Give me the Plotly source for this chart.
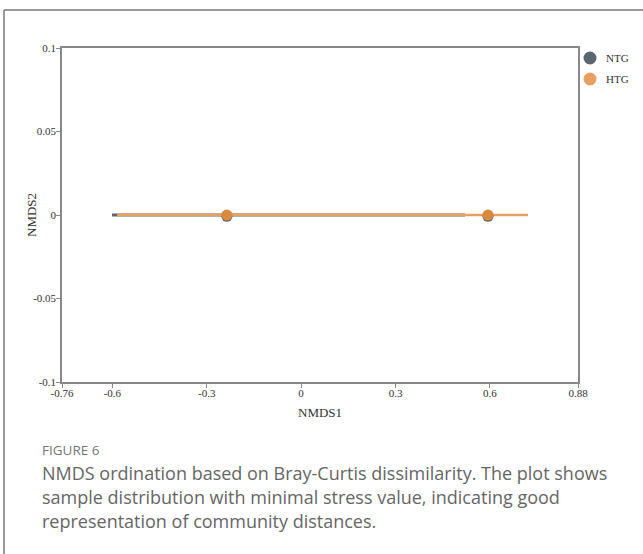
import plotly.graph_objects as go

# ---- data ----
groups = ["NTG", "HTG"]
ntg_x = [-0.236, 0.594]
ntg_y = [-0.0008, -0.0008]
htg_x = [-0.236, 0.594]
htg_y = [0.0, 0.0]
ntg_ellipse_x = [-0.601, 0.521]
ntg_ellipse_y = [0.0, 0.0]
htg_ellipse_x = [-0.585, 0.721]
htg_ellipse_y = [0.0, 0.0]
x_ticks = [-0.76, -0.6, -0.3, 0, 0.3, 0.6, 0.88]
x_ticklabels = ["-0.76", "-0.6", "-0.3", "0", "0.3", "0.6", "0.88"]
y_ticks = [-0.1, -0.05, 0, 0.05, 0.1]
y_ticklabels = ["-0.1", "-0.05", "0", "0.05", "0.1"]

caption_title = "FIGURE 6"
caption_lines = [
    "NMDS ordination based on Bray-Curtis dissimilarity. The plot shows",
    "sample distribution with minimal stress value, indicating good",
    "representation of community distances.",
]

c_ntg = "#5b6770"
c_htg = "#e8a060"
c_htg_pt = "#d98a3d"
legend_colors = [c_ntg, c_htg]

fig = go.Figure()
fig.add_trace(go.Scatter(x=ntg_ellipse_x, y=ntg_ellipse_y, mode="lines",
                         line=dict(color=c_ntg, width=3), showlegend=False, hoverinfo="skip"))
fig.add_trace(go.Scatter(x=htg_ellipse_x, y=htg_ellipse_y, mode="lines",
                         line=dict(color=c_htg, width=2.5), showlegend=False, hoverinfo="skip"))
fig.add_trace(go.Scatter(x=ntg_x, y=ntg_y, mode="markers", name=groups[0],
                         marker=dict(color=c_ntg, size=11), showlegend=False))
fig.add_trace(go.Scatter(x=htg_x, y=htg_y, mode="markers", name=groups[1],
                         marker=dict(color=c_htg_pt, size=11), showlegend=False))

W, H = 643, 554
L, R, T, B = 62, 578, 48, 382

def px(x):
    return (x - L) / (R - L)

def py(y):
    return (B - y) / (B - T)

axis_common = dict(
    showgrid=False, zeroline=False, showline=True, mirror=True,
    linecolor="#888888", linewidth=1.5, automargin=False,
    ticks="outside", ticklen=4, tickwidth=1, tickcolor="#888888",
    tickfont=dict(family="Liberation Serif", size=11, color="#333333"),
)

fig.update_layout(
    width=W, height=H,
    margin=dict(l=L, r=W - R, t=T, b=H - B),
    paper_bgcolor="white", plot_bgcolor="white",
    xaxis=dict(range=[-0.76, 0.88], tickvals=x_ticks, ticktext=x_ticklabels,
               ticklabelstandoff=-4, **axis_common),
    yaxis=dict(range=[-0.1, 0.1], tickvals=y_ticks, ticktext=y_ticklabels,
               ticklabelstandoff=-2, **axis_common),
    showlegend=False,
)

title_font = dict(family="Liberation Serif", size=13, color="#333333")
fig.add_annotation(xref="paper", yref="paper", x=px(320), y=py(413), text="NMDS1",
                   showarrow=False, font=title_font, xanchor="center", yanchor="middle")
fig.add_annotation(xref="paper", yref="paper", x=px(31), y=py(215), text="NMDS2",
                   showarrow=False, font=title_font, textangle=-90, xanchor="center", yanchor="middle")

# legend (drawn manually so it does not push the plot area)
for i, (g, c) in enumerate(zip(groups, legend_colors)):
    yc = py(58 + 21 * i)
    fig.add_shape(type="circle", xref="paper", yref="paper", xsizemode="pixel", ysizemode="pixel",
                  xanchor=px(590), yanchor=yc, x0=-6.5, x1=6.5, y0=-6.5, y1=6.5,
                  fillcolor=c, line=dict(width=0))
    fig.add_annotation(xref="paper", yref="paper", x=px(604), y=yc, text=g, showarrow=False,
                       xanchor="left", yanchor="middle",
                       font=dict(family="Liberation Serif", size=11, color="#333333"))

# outer frame (left and top edges)
fig.add_shape(type="line", xref="paper", yref="paper", x0=px(4), x1=px(660), y0=py(10), y1=py(10),
              line=dict(color="#777777", width=1.5))
fig.add_shape(type="line", xref="paper", yref="paper", x0=px(4), x1=px(4), y0=py(10), y1=py(570),
              line=dict(color="#777777", width=1.5))

fig.add_annotation(xref="paper", yref="paper", x=px(40), y=py(450), xanchor="left", yanchor="middle",
                   text=caption_title, showarrow=False,
                   font=dict(family="Open Sans", size=13.5, color="#777777"))
for i, line in enumerate(caption_lines):
    fig.add_annotation(xref="paper", yref="paper", x=px(40), y=py(473 + 24 * i), xanchor="left",
                       yanchor="middle", text=line, showarrow=False,
                       font=dict(family="Open Sans", size=18, color="#666666"))

fig.write_html("out.html")
